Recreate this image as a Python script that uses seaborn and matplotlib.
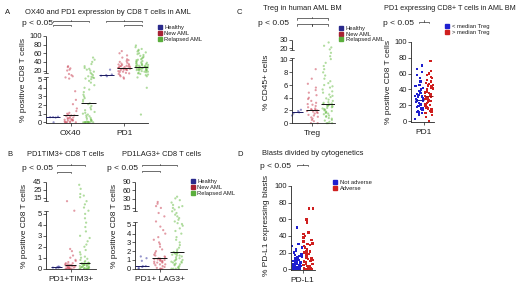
import numpy as np
import pandas as pd
import matplotlib
matplotlib.use("Agg")
import matplotlib.pyplot as plt
import matplotlib.transforms as mtrans
from matplotlib.lines import Line2D
import seaborn as sns

# ------------------------------------------------------------------ data
aml_groups = ["Healthy", "New AML", "Relapsed AML"]
treg_groups = ["< median Treg", "> median Treg"]
cyto_groups = ["Not adverse", "Adverse"]
a_markers = ["OX40", "PD1"]

# Panel A: OX40 and PD1 (% positive CD8 T cells)
ox40_healthy = [0.0, 0.55, 0.6, 0.6, 0.65]
ox40_new = [0, 0, 0, 0, 0, 0.1, 0.1, 0.2, 0.2, 0.25, 0.3, 0.3, 0.35, 0.4, 0.45, 0.5,
            0.55, 0.6, 0.7, 0.8, 0.8, 0.9, 1.0, 1.1, 1.3, 1.6, 2.1, 2.6, 3.6,
            6, 8, 10, 12, 14, 20, 22, 25, 28, 30]
ox40_relapsed = [0, 0, 0, 0, 0, 0, 0, 0, 0, 0, 0.05, 0.1, 0.1, 0.2, 0.3, 0.3, 0.4, 0.5,
                 0.6, 0.7, 0.8, 0.9, 1.0, 1.1, 1.2, 1.4, 1.5, 1.7, 1.9, 2.1, 2.2,
                 2.4, 2.6, 2.8, 3.0, 3.2, 3.5, 3.8, 4.0, 4.3, 4.6, 4.8, 5.0, 6, 7, 8,
                 9, 10, 12, 14, 16, 18, 20, 22, 24, 26, 30, 35, 40, 45, 50]
pd1_healthy = [10, 11, 12, 13, 22]
pd1_new = [6, 8, 10, 12, 14, 15, 16, 17, 18, 19, 20, 21, 22, 22, 23, 24, 24, 25, 26, 26,
           27, 28, 28, 29, 30, 30, 31, 32, 33, 34, 35, 36, 38, 40, 42, 44, 46, 50, 55,
           60, 65]
pd1_relapsed = [0.9, 4, 8, 10, 12, 13, 14, 15, 16, 17, 18, 18, 19, 20, 20, 21, 21, 22,
                22, 23, 23, 24, 24, 25, 25, 26, 26, 27, 27, 27, 28, 28, 28, 28.5, 29,
                30, 30, 31, 31, 32, 32, 33, 34, 35, 35, 36, 37, 38, 39, 40, 41, 42, 44,
                45, 46, 48, 50, 52, 54, 56, 58, 60, 62, 64, 66, 68, 70, 74, 78]

# Panel B: PD1+TIM3+ and PD1+LAG3+
tim3_healthy = [0.05, 0.1, 0.1, 0.15, 0.15, 0.2]
tim3_new = [0, 0, 0, 0, 0, 0, 0.05, 0.1, 0.1, 0.15, 0.2, 0.2, 0.25, 0.25, 0.3, 0.3,
            0.3, 0.35, 0.4, 0.4, 0.5, 0.5, 0.6, 0.7, 0.8, 1.0, 1.2, 1.6, 1.8, 7, 13]
tim3_relapsed = [0, 0, 0, 0, 0, 0, 0, 0, 0.05, 0.05, 0.1, 0.1, 0.15, 0.15, 0.2, 0.2,
                 0.25, 0.25, 0.3, 0.3, 0.35, 0.35, 0.4, 0.4, 0.4, 0.45, 0.45, 0.5, 0.5,
                 0.5, 0.55, 0.6, 0.7, 0.8, 0.9, 1.0, 1.1, 1.3, 1.5, 1.7, 2.0, 2.2, 2.5,
                 2.8, 3.0, 3.4, 3.8, 4.2, 4.6, 5.0, 7, 9, 11, 13, 16, 18, 20, 28, 38]
lag3_healthy = [0.0, 0.1, 0.2, 0.3, 0.3, 0.9, 1.2, 1.4]
lag3_new = [0, 0, 0, 0.1, 0.2, 0.3, 0.4, 0.5, 0.5, 0.6, 0.7, 0.7, 0.8, 0.8, 0.9, 0.9,
            1.0, 1.0, 1.05, 1.1, 1.1, 1.15, 1.2, 1.3, 1.4, 1.5, 1.6, 1.8, 2.0, 2.2,
            2.5, 2.8, 3.0, 3.3, 3.6, 4.0, 4.4, 4.8, 7, 10, 12, 15, 18, 22, 25]
lag3_relapsed = [0, 0, 0, 0, 0.1, 0.2, 0.3, 0.4, 0.5, 0.5, 0.6, 0.7, 0.7, 0.8, 0.8,
                 0.9, 1.0, 1.0, 1.1, 1.2, 1.3, 1.4, 1.5, 1.5, 1.6, 1.7, 1.7, 1.8, 1.8,
                 1.9, 2.0, 2.2, 2.4, 2.7, 3.0, 3.3, 3.6, 4.0, 4.3, 4.6, 4.9, 5.5, 6, 7,
                 8, 9, 10, 11, 12, 13, 14, 15, 16, 18, 20, 24, 28, 32, 38]

# Panel C: Treg (% CD45+ cells) and PD1 by Treg level
treg_healthy = [1.2, 1.5, 1.7, 1.9, 2.1]
treg_new = [0, 0, 0.3, 0.5, 0.7, 0.9, 1.0, 1.2, 1.3, 1.5, 1.6, 1.7, 1.8, 1.9, 2.0, 2.0,
            2.05, 2.1, 2.2, 2.3, 2.5, 2.7, 2.9, 3.0, 3.2, 3.5, 3.8, 4.0, 4.4, 4.8, 5.2,
            5.6, 6.2, 7.0, 8.5]
treg_relapsed = [0, 0, 0, 0.2, 0.4, 0.5, 0.7, 0.8, 1.0, 1.1, 1.2, 1.4, 1.5, 1.6, 1.7,
                 1.8, 1.9, 2.0, 2.1, 2.2, 2.3, 2.4, 2.5, 2.6, 2.7, 2.75, 2.8, 2.85, 2.9,
                 2.95, 3.0, 3.1, 3.2, 3.3, 3.5, 3.7, 3.9, 4.1, 4.3, 4.5, 4.8, 5.0, 5.3,
                 5.6, 5.8, 6.0, 6.3, 6.6, 7.0, 7.5, 8.0, 8.5, 9.0, 9.5, 10.5, 13, 16,
                 19, 21, 23, 27]
pd1_low_treg = [3, 8, 10, 11, 12, 12, 13, 14, 14, 15, 16, 17, 18, 19, 20, 21, 22, 23,
                24, 25, 26, 27, 28, 29, 30, 31, 32, 33, 34, 35, 36, 38, 40, 42, 44, 46,
                50, 54, 58, 62, 66, 70]
pd1_high_treg = [0, 5, 8, 10, 12, 13, 14, 15, 16, 17, 18, 19, 20, 21, 22, 23, 24, 25,
                 26, 27, 28, 29, 30, 31, 32, 33, 34, 35, 36, 37, 38, 39, 40, 41, 42, 43,
                 44, 45, 46, 47, 48, 50, 52, 54, 56, 58, 60, 63, 76]

# Panel D: % PD-L1 expressing blasts
pdl1_not_adverse = [0, 0, 0, 0, 0, 0, 0, 0, 0.5, 1, 1, 1.5, 2, 2, 2.5, 3, 3, 3.5, 4, 4,
                    5, 5, 5.5, 6, 6, 7, 7, 8, 8, 9, 10, 11, 12, 13, 14, 15, 16, 17, 18,
                    20, 22, 24, 26, 28, 30, 50]
pdl1_adverse = [0, 0, 0, 0, 0, 0, 0, 0, 0.5, 1, 1.5, 2, 2.5, 3, 4, 5, 6, 7, 8, 9, 10,
                11, 12, 13, 14, 15, 16, 17, 18, 19, 20, 21, 22, 24, 26, 28, 29, 30, 31,
                33, 35, 38, 40, 42, 44, 56, 60, 73, 73]

# ------------------------------------------------------------------ style
W, H = 520, 284
sns.set_theme(style="ticks")
plt.rcParams["font.family"] = ["Liberation Sans", "DejaVu Sans"]
TXT = "#1e1e1e"
plt.rcParams["text.color"] = TXT
plt.rcParams["axes.edgecolor"] = "#222222"

C_H, C_N, C_R = "#3c3ca0", "#cc4a5c", "#70c050"
L_H, L_N, L_R = "#2a2a8c", "#a82234", "#5aae3c"
C_BLUE, C_RED = "#1f1fcf", "#cf1f1f"

fig = plt.figure(figsize=(W / 100, H / 100), dpi=100)


def add_ax(x0, y0, x1, y1):
    return fig.add_axes([x0 / W, 1 - y1 / H, (x1 - x0) / W, (y1 - y0) / H])


def piecewise(vals, pos):
    vals = np.asarray(vals, float)
    pos = np.asarray(pos, float)

    def mk(a, b):
        s0 = (b[1] - b[0]) / (a[1] - a[0])
        s1 = (b[-1] - b[-2]) / (a[-1] - a[-2])

        def f(v):
            v = np.asarray(v, float)
            out = np.interp(v, a, b)
            out = np.where(v < a[0], b[0] + (v - a[0]) * s0, out)
            out = np.where(v > a[-1], b[-1] + (v - a[-1]) * s1, out)
            return out
        return f
    return mk(vals, pos), mk(pos, vals)


def panel(ax, series, colors, scale, ylim, yticks, xlim, xticks, xtlabels,
          jitter, size, alpha, marker="o", brk=None, med_colors=None, med_half=0.42):
    if scale is not None:
        ax.set_yscale("function", functions=piecewise(*scale))
    keys = [f"g{i}" for i in range(len(series))]
    df = pd.DataFrame({
        "grp": np.repeat(keys, [len(s) for s in series]),
        "val": np.concatenate([np.asarray(s, float) for s in series]),
    })
    sns.stripplot(data=df, x="grp", y="val", hue="grp", order=keys, hue_order=keys,
                  palette=dict(zip(keys, colors)), jitter=jitter, size=size,
                  alpha=alpha, marker=marker, linewidth=0, legend=False, ax=ax,
                  clip_on=False, zorder=2)
    if med_colors is not None:
        for i, s in enumerate(series):
            ax.hlines(np.median(s), i - med_half, i + med_half, color=med_colors[i],
                      lw=0.7, zorder=3)
    ax.set_xlim(*xlim)
    ax.set_ylim(*ylim)
    ax.set_yticks(yticks)
    ax.set_yticklabels([f"{t:g}" for t in yticks])
    ax.set_xticks(xticks)
    ax.set_xticklabels(xtlabels)
    ax.set_xlabel("")
    ax.set_ylabel("")
    ax.tick_params(axis="y", length=2, width=0.5, pad=1, labelsize=5.5, colors=TXT)
    ax.tick_params(axis="x", length=2, width=0.5, pad=2.8, labelsize=6, colors=TXT)
    for sp in ["top", "right"]:
        ax.spines[sp].set_visible(False)
    ax.spines["bottom"].set_linewidth(0.6)
    ax.spines["left"].set_linewidth(0.6)
    if brk is not None:
        ax.spines["left"].set_visible(False)
        tr = ax.get_yaxis_transform()
        ax.plot([0, 0], [ylim[0], brk[0]], transform=tr, color="#222222", lw=0.6,
                clip_on=False, solid_capstyle="butt")
        ax.plot([0, 0], [brk[1], ylim[1]], transform=tr, color="#222222", lw=0.6,
                clip_on=False, solid_capstyle="butt")
        bw = 2.0 / (ax.get_position().width * W)
        for b in brk:
            ax.plot([-bw, bw], [b, b], transform=tr, color="#222222", lw=0.5,
                    clip_on=False)
    ax.patch.set_alpha(0)


def bracket(ax, x0, x1, ypx, mid=True):
    tr = mtrans.blended_transform_factory(ax.transData, fig.transFigure)
    yf = 1 - ypx / H
    d = 1.3 / H
    ax.plot([x0, x0, x1, x1], [yf - d, yf, yf, yf - d], transform=tr, clip_on=False,
            color="#333333", lw=0.5)
    if mid:
        xm = (x0 + x1) / 2
        ax.plot([xm, xm], [yf, yf + d], transform=tr, clip_on=False,
                color="#333333", lw=0.5)


def legend(ax, labels, colors, xpx, ypx, fs=4.2):
    hs = [Line2D([], [], marker="s", ls="", color=c, markersize=2.6) for c in colors]
    ax.legend(hs, labels, loc="upper left", bbox_to_anchor=(xpx / W, 1 - ypx / H),
              bbox_transform=fig.transFigure, frameon=False, fontsize=fs,
              handlelength=0.5, handletextpad=0.5, labelspacing=0.15, borderpad=0,
              borderaxespad=0)


def ftext(x, y, s, size=5.5, **kw):
    fig.text(x / W, 1 - y / H, s, fontsize=size, va="center", ha=kw.pop("ha", "left"),
             color=TXT, **kw)


def ylab(x, y, s, size=6):
    fig.text(x / W, 1 - y / H, s, fontsize=size, va="center", ha="center",
             rotation=90, color=TXT)


np.random.seed(3)
aml_cols = [C_H, C_N, C_R]
aml_line = ["#1a1a60", "#111111", "#111111"]
SZ, AL = 1.6, 0.55

# ------------------------------------------------------------------ panel A
axA = add_ax(46, 36, 148, 123)
panel(axA, [ox40_healthy, ox40_new, ox40_relapsed, pd1_healthy, pd1_new, pd1_relapsed],
      aml_cols * 2, ([0, 5, 20, 100], [0, 5, 6, 10]), (-0.08, 100),
      [0, 1, 2, 3, 4, 5, 20, 40, 60, 80, 100], (-0.39, 5.34), [1, 4], a_markers,
      jitter=0.36, size=SZ, alpha=AL, brk=(8.75, 16.25), med_colors=aml_line * 2)
bracket(axA, 0, 2, 21)
bracket(axA, 0, 1, 24.7, mid=False)
bracket(axA, 3, 5, 21)
bracket(axA, 4, 5, 24.7, mid=False)
legend(axA, aml_groups, [L_H, L_N, L_R], 158.5, 25)
ylab(24, 79.5, "% positive CD8 T cells")
ftext(5, 12.5, "A")
ftext(25, 12.5, "OX40 and PD1 expression by CD8 T cells in AML", size=5.4)
ftext(22, 23.3, "p < 0.05", size=6)

# ------------------------------------------------------------------ panel B
axB1 = add_ax(46, 182, 96, 269)
panel(axB1, [tim3_healthy, tim3_new, tim3_relapsed], aml_cols,
      ([0, 5, 15, 25, 45], [0, 5, 6.45, 7.18, 7.91]), (-0.03, 45),
      [0, 1, 2, 3, 4, 5, 15, 25, 45], (-0.75, 2.82), [1], ["PD1+TIM3+"],
      jitter=0.38, size=SZ, alpha=AL, brk=(7.0, 12.9), med_colors=aml_line)
bracket(axB1, 0, 2, 165)
bracket(axB1, 0, 1, 171.5, mid=False)
ylab(25, 226, "% positive CD8 T cells")

axB2 = add_ax(135, 181.5, 187, 269)
panel(axB2, [lag3_healthy, lag3_new, lag3_relapsed], aml_cols,
      ([0, 5, 15, 30, 60, 90], [0, 5, 6.93, 7.95, 8.92, 9.94]), (-0.03, 90),
      [0, 1, 2, 3, 4, 5, 15, 30, 60, 90], (-0.4, 2.57), [1], ["PD1+ LAG3+"],
      jitter=0.33, size=SZ, alpha=AL, brk=(6.55, 13.3), med_colors=aml_line)
bracket(axB2, 0, 2, 165)
bracket(axB2, 0, 1, 171, mid=False)
legend(axB2, aml_groups, [L_H, L_N, L_R], 191.5, 179)
ylab(114, 226, "% positive CD8 T cells")
ftext(7, 155, "B")
ftext(27, 155, "PD1TIM3+ CD8 T cells", size=5.4)
ftext(122, 155, "PD1LAG3+ CD8 T cells", size=5.4)
ftext(22, 169, "p < 0.05", size=6)
ftext(107, 169, "p < 0.05", size=6)

# ------------------------------------------------------------------ panel C
axC1 = add_ax(292, 40, 335, 123.3)
panel(axC1, [treg_healthy, treg_new, treg_relapsed], aml_cols,
      ([0, 10, 20, 30], [0, 10, 11.8, 13.1]), (-0.03, 30),
      [0, 2, 4, 6, 8, 10, 20, 30], (-0.32, 2.45), [1], ["Treg"],
      jitter=0.36, size=SZ, alpha=AL, brk=(11.7, 18.3), med_colors=aml_line)
bracket(axC1, 0, 2, 18.3)
bracket(axC1, 0, 1, 24.3, mid=False)
bracket(axC1, 1, 2, 24.3, mid=False)
legend(axC1, aml_groups, [L_H, L_N, L_R], 340, 25.5)
ylab(266.5, 82, "% CD45+ cells")
ftext(237, 12.5, "C")
ftext(263, 9, "Treg in human AML BM", size=5.4)
ftext(258, 23.3, "p < 0.05", size=6)

axC2 = add_ax(411, 41.7, 434, 122)
panel(axC2, [pd1_low_treg, pd1_high_treg], [C_BLUE, C_RED], None, (-1, 100),
      [0, 20, 40, 60, 80, 100], (-0.8, 1.5), [0.5], ["PD1"],
      jitter=0.42, size=1.6, alpha=1.0, marker="s",
      med_colors=["#1a1a9a", "#9a1414"], med_half=0.45)
bracket(axC2, 0, 1, 21.7)
legend(axC2, treg_groups, [C_BLUE, C_RED], 446, 24)
ylab(389, 82, "% positive CD8 T cells")
ftext(384, 9, "PD1 expressing CD8+ T cells in AML BM", size=5.2)
ftext(383, 23.3, "p < 0.05", size=6)

# ------------------------------------------------------------------ panel D
axD = add_ax(291, 186, 315, 270)
panel(axD, [pdl1_not_adverse, pdl1_adverse], [C_BLUE, C_RED], None, (-1, 100),
      [0, 20, 40, 60, 80, 100], (-0.55, 1.6), [0.5], ["PD-L1"],
      jitter=0.45, size=1.8, alpha=1.0, marker="s")
bracket(axD, 0, 1, 165)
legend(axD, cyto_groups, [C_BLUE, C_RED], 334, 179.5)
ylab(266, 226, "% PD-L1 expressing blasts")
ftext(237, 155, "D")
ftext(262, 153.3, "Blasts divided by cytogenetics", size=5.4)
ftext(260, 166.7, "p < 0.05", size=6)

fig.savefig("out.png", dpi=100, facecolor="white")
